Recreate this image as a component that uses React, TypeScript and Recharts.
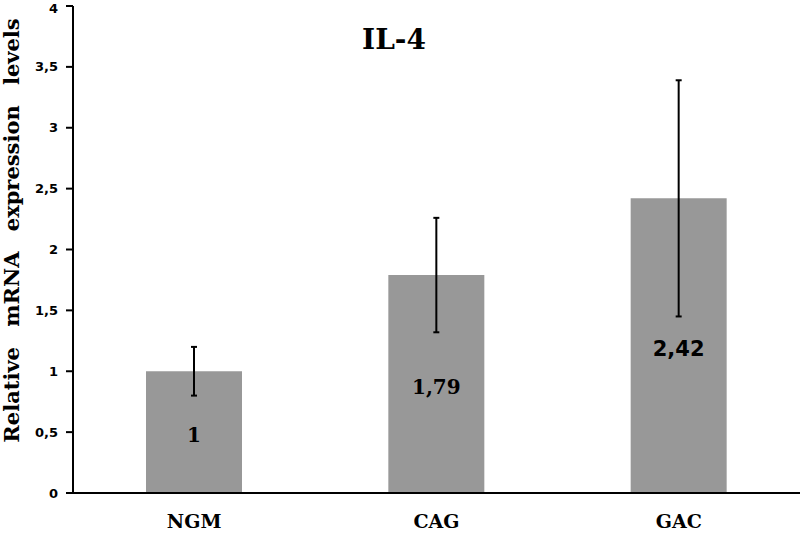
import React from 'react';
import { BarChart, Bar, XAxis, YAxis, ErrorBar, LabelList } from 'recharts';

const categories = ['NGM', 'CAG', 'GAC'];
const means = [1, 1.79, 2.42];
const errors = [0.2, 0.47, 0.97];
const yTicks = [0, 0.5, 1, 1.5, 2, 2.5, 3, 3.5, 4];
const boundaryTicks = [1, 2];

const title = 'IL-4';
const yTitle = 'Relative mRNA expression levels';

const SERIF = '"DejaVu Serif", serif';
const SANS = '"DejaVu Sans", sans-serif';

const data = categories.map((name, i) => ({ name, value: means[i], err: errors[i] }));

const fmt = (v: number) => String(v).replace('.', ',');

// last label in the original uses a sans face, the others serif
const ValueLabel = (props: any) => {
  const { x, y, width, height, value, index } = props;
  return (
    <text
      x={x + width / 2}
      y={y + height / 2 + 3}
      textAnchor="middle"
      dominantBaseline="central"
      fontFamily={index === 2 ? SANS : SERIF}
      fontWeight="bold"
      fontSize={index === 2 ? 21 : 20}
      fill="#000"
    >
      {fmt(value)}
    </text>
  );
};

const YTitle = (props: any) => {
  const { viewBox } = props;
  const cx = viewBox.x + 11;
  const cy = viewBox.y + viewBox.height / 2 - 19;
  return (
    <text
      x={cx}
      y={cy}
      transform={`rotate(-90, ${cx}, ${cy})`}
      textAnchor="middle"
      dominantBaseline="central"
      fontFamily={SERIF}
      fontWeight="bold"
      fontSize={21}
      fill="#000"
      style={{ wordSpacing: 13 }}
    >
      {yTitle}
    </text>
  );
};

export default function App() {
  return (
    <div style={{ position: 'absolute', left: 0, top: 0, width: 800, height: 537, background: '#fff' }}>
      <BarChart width={800} height={537} data={data} margin={{ top: 6, right: 0, left: 0, bottom: 0 }}>
        <XAxis
          xAxisId="bounds"
          type="number"
          domain={[0, 3]}
          ticks={boundaryTicks}
          height={0}
          axisLine={false}
          tick={false}
          tickSize={6}
          tickLine={{ stroke: '#000', strokeWidth: 2 }}
        />
        <XAxis
          dataKey="name"
          height={44}
          axisLine={{ stroke: '#000', strokeWidth: 2 }}
          tickLine={false}
          tickMargin={16}
          tick={{ fontFamily: SERIF, fontWeight: 'bold', fontSize: 19, fill: '#000' }}
        />
        <YAxis
          domain={[0, 4]}
          ticks={yTicks}
          width={73}
          axisLine={{ stroke: '#000', strokeWidth: 2 }}
          tickLine={{ stroke: '#000', strokeWidth: 2 }}
          tickSize={7}
          tickMargin={8}
          tickFormatter={fmt}
          tick={{ fontFamily: SANS, fontWeight: 'bold', fontSize: 13, fill: '#000' }}
          label={<YTitle />}
        />
        <Bar dataKey="value" fill="#989898" barSize={96} isAnimationActive={false}>
          <ErrorBar dataKey="err" width={3} stroke="#000" strokeWidth={2} />
          <LabelList dataKey="value" content={<ValueLabel />} />
        </Bar>
      </BarChart>
      <div
        style={{
          position: 'absolute',
          left: 294,
          width: 200,
          top: 24,
          textAlign: 'center',
          fontFamily: SERIF,
          fontWeight: 'bold',
          fontSize: 28,
          lineHeight: '32px',
          color: '#000',
        }}
      >
        {title}
      </div>
    </div>
  );
}
